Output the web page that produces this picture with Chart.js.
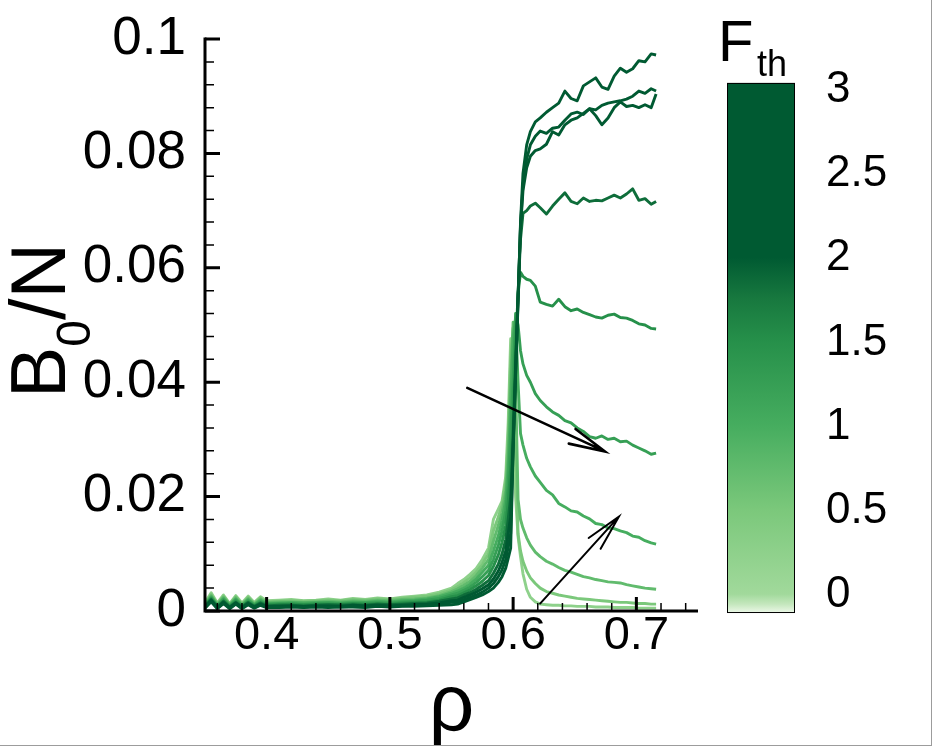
<!DOCTYPE html>
<html><head><meta charset="utf-8">
<script src="https://cdn.jsdelivr.net/npm/chart.js@4.4.1/dist/chart.umd.min.js"></script>
<style>
html,body{margin:0;padding:0;background:#fff;overflow:hidden;}
#wrap{width:931px;height:745px;border-right:1px solid #9c9c9c;border-bottom:1px solid #9c9c9c;background:#fff;}
canvas{display:block;}
</style></head><body>
<div id="wrap"><canvas id="c" width="931" height="745"></canvas></div>
<script>
// ---------- data ----------
const rho = [0.350,0.355,0.360,0.365,0.370,0.375,0.380,0.385,0.390,0.395,0.400,
0.410,0.420,0.430,0.440,0.450,0.460,0.470,0.480,0.490,0.500,0.510,0.520,0.530,0.540,0.550,
0.555,0.560,0.565,0.570,0.575,0.580,0.584,0.588,0.591,0.594,0.596,0.598,
0.600,0.602,0.604,0.606,0.608,
0.611,0.614,0.618,0.622,
0.627,0.632,0.637,0.642,0.647,0.652,0.657,0.662,0.667,0.672,0.677,0.682,0.687,0.692,0.697,0.702,0.707,0.712,
0.716];

const F_th = [3, 2.5, 2, 1.85, 1.5, 1.25, 1, 0.75, 0.5, 0.25];

const curveF300 = [0.0005,0.0016,0.0004,0.0013,0.0004,0.0012,0.0004,0.0011,0.0005,0.0010,0.0006,
0.0006,0.0007,0.0006,0.0007,0.0006,0.0007,0.0007,0.0006,0.0008,0.0007,0.0008,0.0008,0.0009,0.0010,0.0011,
0.0012,0.0016,0.0020,0.0024,0.0028,0.0034,0.0040,0.0050,0.0060,0.0075,0.0092,0.0110,
0.0280,0.0410,0.0540,0.0680,0.0765,
0.0815,0.0838,0.0855,0.0862,
0.0872,0.0880,0.0888,0.0909,0.0896,0.0892,0.0918,0.0925,0.0932,0.0916,0.0912,0.0935,0.0949,0.0942,0.0948,0.0962,0.0960,0.0974,
0.0972];
const curveF250 = [0.0006,0.0017,0.0005,0.0014,0.0005,0.0013,0.0005,0.0012,0.0006,0.0011,0.0007,
0.0007,0.0008,0.0007,0.0008,0.0008,0.0007,0.0008,0.0008,0.0009,0.0008,0.0009,0.0010,0.0010,0.0012,0.0015,
0.0016,0.0020,0.0024,0.0028,0.0033,0.0040,0.0048,0.0060,0.0072,0.0090,0.0112,0.0135,
0.0285,0.0415,0.0545,0.0675,0.0745,
0.0790,0.0815,0.0830,0.0839,
0.0835,0.0844,0.0846,0.0858,0.0869,0.0872,0.0868,0.0878,0.0876,0.0884,0.0888,0.0890,0.0892,0.0895,0.0900,0.0909,0.0905,0.0913,
0.0909];
const curveF200 = [0.0007,0.0019,0.0006,0.0015,0.0006,0.0014,0.0006,0.0013,0.0007,0.0012,0.0008,
0.0008,0.0009,0.0008,0.0009,0.0009,0.0008,0.0010,0.0009,0.0010,0.0009,0.0010,0.0011,0.0012,0.0014,0.0018,
0.0019,0.0024,0.0028,0.0033,0.0039,0.0046,0.0056,0.0070,0.0085,0.0105,0.0135,0.0165,
0.0290,0.0420,0.0550,0.0670,0.0735,
0.0775,0.0795,0.0805,0.0808,
0.0816,0.0838,0.0832,0.0850,0.0858,0.0862,0.0870,0.0878,0.0866,0.0850,0.0862,0.0880,0.0890,0.0882,0.0884,0.0880,0.0885,0.0880,
0.0904];
const curveF185 = [0.0008,0.0020,0.0007,0.0017,0.0007,0.0015,0.0007,0.0015,0.0008,0.0014,0.0009,
0.0010,0.0010,0.0009,0.0010,0.0011,0.0010,0.0011,0.0010,0.0012,0.0011,0.0012,0.0013,0.0014,0.0017,0.0021,
0.0023,0.0028,0.0032,0.0038,0.0045,0.0053,0.0066,0.0082,0.0100,0.0125,0.0160,0.0200,
0.0300,0.0430,0.0555,0.0650,0.0695,
0.0700,0.0708,0.0713,0.0705,
0.0694,0.0708,0.0720,0.0731,0.0716,0.0712,0.0722,0.0716,0.0718,0.0717,0.0722,0.0727,0.0722,0.0729,0.0738,0.0718,0.0721,0.0711,
0.0716];
const curveF150 = [0.0009,0.0022,0.0008,0.0018,0.0008,0.0017,0.0008,0.0016,0.0009,0.0015,0.0011,
0.0011,0.0012,0.0011,0.0012,0.0012,0.0011,0.0013,0.0012,0.0013,0.0012,0.0014,0.0015,0.0016,0.0019,0.0025,
0.0027,0.0032,0.0037,0.0044,0.0052,0.0062,0.0078,0.0098,0.0120,0.0150,0.0190,0.0250,
0.0330,0.0460,0.0555,0.0592,0.0585,
0.0580,0.0578,0.0568,0.0540,
0.0536,0.0533,0.0545,0.0532,0.0525,0.0528,0.0522,0.0518,0.0514,0.0512,0.0517,0.0519,0.0513,0.0512,0.0508,0.0502,0.0500,0.0494,
0.0493];
const curveF125 = [0.0010,0.0023,0.0009,0.0020,0.0009,0.0019,0.0009,0.0018,0.0010,0.0017,0.0012,
0.0013,0.0013,0.0012,0.0013,0.0014,0.0013,0.0014,0.0014,0.0015,0.0014,0.0016,0.0017,0.0019,0.0022,0.0028,
0.0031,0.0036,0.0042,0.0050,0.0060,0.0071,0.0090,0.0115,0.0140,0.0175,0.0220,0.0310,
0.0400,0.0520,0.0500,0.0455,0.0432,
0.0412,0.0400,0.0380,0.0368,
0.0357,0.0348,0.0342,0.0333,0.0329,0.0320,0.0314,0.0305,0.0302,0.0306,0.0300,0.0302,0.0296,0.0297,0.0290,0.0285,0.0280,0.0274,
0.0276];
const curveF100 = [0.0011,0.0025,0.0010,0.0022,0.0010,0.0021,0.0010,0.0020,0.0011,0.0019,0.0013,
0.0014,0.0015,0.0014,0.0015,0.0015,0.0014,0.0016,0.0015,0.0017,0.0016,0.0018,0.0019,0.0021,0.0025,0.0031,
0.0035,0.0040,0.0047,0.0056,0.0068,0.0080,0.0105,0.0132,0.0158,0.0195,0.0250,0.0360,
0.0480,0.0512,0.0400,0.0310,0.0290,
0.0267,0.0252,0.0236,0.0225,
0.0211,0.0203,0.0188,0.0182,0.0175,0.0173,0.0166,0.0161,0.0153,0.0151,0.0145,0.0144,0.0140,0.0137,0.0131,0.0129,0.0123,0.0119,
0.0117];
const curveF075 = [0.0012,0.0027,0.0011,0.0024,0.0011,0.0023,0.0011,0.0022,0.0012,0.0021,0.0015,
0.0016,0.0016,0.0015,0.0016,0.0017,0.0016,0.0018,0.0017,0.0019,0.0018,0.0020,0.0021,0.0023,0.0027,0.0034,
0.0039,0.0045,0.0052,0.0062,0.0075,0.0090,0.0122,0.0150,0.0172,0.0210,0.0275,0.0400,
0.0505,0.0400,0.0195,0.0160,0.0145,
0.0128,0.0115,0.0103,0.0095,
0.0087,0.0082,0.0076,0.0071,0.0068,0.0064,0.0060,0.0058,0.0055,0.0053,0.0051,0.0050,0.0049,0.0046,0.0044,0.0042,0.0040,0.0039,
0.0038];
const curveF050 = [0.0013,0.0029,0.0012,0.0026,0.0012,0.0025,0.0012,0.0024,0.0013,0.0023,0.0016,
0.0017,0.0018,0.0017,0.0018,0.0019,0.0018,0.0020,0.0019,0.0021,0.0020,0.0022,0.0024,0.0026,0.0030,0.0037,
0.0043,0.0050,0.0058,0.0068,0.0082,0.0100,0.0140,0.0165,0.0185,0.0225,0.0300,0.0440,
0.0495,0.0300,0.0135,0.0105,0.0087,
0.0070,0.0058,0.0048,0.0040,
0.0034,0.0031,0.0028,0.0026,0.0024,0.0022,0.0021,0.0020,0.0019,0.0018,0.0017,0.0016,0.0015,0.0015,0.0014,0.0013,0.0013,0.0012,
0.0012];
const curveF025 = [0.0015,0.0032,0.0014,0.0028,0.0013,0.0027,0.0014,0.0026,0.0015,0.0025,0.0018,
0.0019,0.0020,0.0018,0.0019,0.0021,0.0019,0.0022,0.0020,0.0023,0.0021,0.0024,0.0026,0.0028,0.0033,0.0040,
0.0048,0.0055,0.0064,0.0074,0.0090,0.0110,0.0160,0.0178,0.0192,0.0235,0.0330,0.0476,
0.0360,0.0200,0.0130,0.0095,0.0065,
0.0038,0.0024,0.0016,0.0012,
0.0011,0.0010,0.0010,0.0009,0.0009,0.0008,0.0008,0.0008,0.0007,0.0007,0.0007,0.0006,0.0006,0.0006,0.0006,0.0005,0.0005,0.0005,
0.0005];

const seriesList = [curveF300, curveF250, curveF200, curveF185, curveF150, curveF125, curveF100, curveF075, curveF050, curveF025];

const xTicks = [0.4, 0.5, 0.6, 0.7];
const xTickLabels = ['0.4', '0.5', '0.6', '0.7'];
const yTicks = [0, 0.02, 0.04, 0.06, 0.08, 0.1];
const yTickLabels = ['0', '0.02', '0.04', '0.06', '0.08', '0.1'];
const cbTicks = [0, 0.5, 1, 1.5, 2, 2.5, 3];
const cbTickLabels = ['0', '0.5', '1', '1.5', '2', '2.5', '3'];
const cbRange = [-0.113, 3.036];
// annotation arrows (data coordinates: [rho, B0/N])
const arrowStarts = [[0.5628, 0.0390], [0.6219, 0.0013]];
const arrowEnds   = [[0.6745, 0.0279], [0.6858, 0.0165]];

// ---------- styles ----------
const FONT = '"Liberation Sans", Arial, Helvetica, sans-serif';
const cmapStops = [[-0.12,'#f2faef'],[-0.06,'#c4e7bd'],[0,'#a1d99b'],[0.5,'#7bc87b'],[1,'#46ad5f'],[1.5,'#26904a'],[1.75,'#18793f'],[2,'#005a32'],[3.2,'#005a32']];
function hex2rgb(h){return [parseInt(h.slice(1,3),16),parseInt(h.slice(3,5),16),parseInt(h.slice(5,7),16)];}
function cmap(v){
  for(let i=0;i<cmapStops.length-1;i++){
    const a=cmapStops[i][0], b=cmapStops[i+1][0];
    if(v<=b){
      const t=Math.max(0,(v-a)/(b-a));
      const A=hex2rgb(cmapStops[i][1]), B=hex2rgb(cmapStops[i+1][1]);
      return 'rgb('+A.map((x,k)=>Math.round(x+(B[k]-x)*t)).join(',')+')';
    }
  }
  return cmapStops[cmapStops.length-1][1];
}

const datasets = seriesList.map((s,i)=>({
  label: 'F_th=' + F_th[i],
  data: rho.map((x,j)=>({x:x, y:s[j]})),
  borderColor: cmap(F_th[i]),
  borderWidth: 2.9,
  pointRadius: 0,
  tension: 0,
  fill: false,
  borderJoinStyle: 'round'
}));

const deco = {
  id: 'deco',
  afterDatasetsDraw(chart){
    const ctx = chart.ctx, xs = chart.scales.x, ys = chart.scales.y, a = chart.chartArea;
    ctx.save();
    // arrows
    ctx.strokeStyle = '#000';
    ctx.lineCap = 'round';
    arrowStarts.forEach((st,i)=>{
      const x1=xs.getPixelForValue(st[0]), y1=ys.getPixelForValue(st[1]);
      const x2=xs.getPixelForValue(arrowEnds[i][0]), y2=ys.getPixelForValue(arrowEnds[i][1]);
      ctx.lineWidth = i===0 ? 2.6 : 2;
      ctx.beginPath(); ctx.moveTo(x1,y1); ctx.lineTo(x2,y2);
      const ang = Math.atan2(y1-y2, x1-x2), L = 37, h = 0.22;
      ctx.moveTo(x2+L*Math.cos(ang+h), y2+L*Math.sin(ang+h)); ctx.lineTo(x2,y2);
      ctx.lineTo(x2+L*Math.cos(ang-h), y2+L*Math.sin(ang-h));
      ctx.stroke();
    });
    // axes
    ctx.lineCap = 'butt';
    ctx.lineWidth = 3;
    ctx.beginPath();
    ctx.moveTo(a.left, a.top-1.5); ctx.lineTo(a.left, a.bottom+1.5);
    ctx.moveTo(a.left-1.5, a.bottom); ctx.lineTo(a.right, a.bottom);
    ctx.stroke();
    // major ticks
    ctx.beginPath();
    yTicks.forEach(v=>{const y=ys.getPixelForValue(v); ctx.moveTo(a.left, y); ctx.lineTo(a.left+15, y);});
    xTicks.forEach(v=>{const x=xs.getPixelForValue(v); ctx.moveTo(x, a.bottom); ctx.lineTo(x, a.bottom-14);});
    ctx.stroke();
    // minor ticks
    ctx.lineWidth = 1.5;
    ctx.beginPath();
    for(let k=1;k<25;k++){ const v=k*0.004; if(k%5===0) continue; const y=ys.getPixelForValue(v); ctx.moveTo(a.left,y); ctx.lineTo(a.left+9,y);}
    for(let k=0;k<=20;k++){ const v=0.36+k*0.02; if(Math.abs(v*10-Math.round(v*10))<1e-6) continue; if(v>0.75) continue; const x=xs.getPixelForValue(v); ctx.moveTo(x,a.bottom); ctx.lineTo(x,a.bottom-8);}
    ctx.stroke();
    ctx.restore();
  },
  afterDraw(chart){
    const ctx = chart.ctx, a = chart.chartArea, cb = chart.scales.cb;
    ctx.save();
    // axis titles
    ctx.fillStyle = '#000';
    ctx.textBaseline = 'alphabetic';
    ctx.textAlign = 'center';
    ctx.font = '80px ' + FONT;
    ctx.fillText('\u03C1', (a.left+a.right)/2, 730);
    // y title B0/N rotated
    ctx.save();
    ctx.translate(65, 398);
    ctx.rotate(-Math.PI/2);
    ctx.textAlign = 'left';
    ctx.font = '77px ' + FONT;
    ctx.fillText('B', 0, 0);
    let w = ctx.measureText('B').width;
    ctx.font = '48px ' + FONT;
    ctx.fillText('0', w, 25);
    w += ctx.measureText('0').width;
    ctx.font = '77px ' + FONT;
    ctx.fillText('/N', w, 0);
    ctx.restore();
    // colorbar
    const cx0 = a.right + 29, cw = 68;
    const yTop = cb.getPixelForValue(cbRange[1]), yBot = cb.getPixelForValue(cbRange[0]);
    const g = ctx.createLinearGradient(0, yBot, 0, yTop);
    cmapStops.forEach(s=>{
      const t = (s[0]-cbRange[0])/(cbRange[1]-cbRange[0]);
      if(t>=0 && t<=1) g.addColorStop(t, s[1]);
    });
    g.addColorStop(0, cmap(cbRange[0]));
    g.addColorStop(1, cmap(cbRange[1]));
    ctx.fillStyle = g;
    ctx.fillRect(cx0, yTop, cw, yBot-yTop);
    ctx.strokeStyle = '#000'; ctx.lineWidth = 1;
    ctx.strokeRect(cx0+0.5, yTop+0.5, cw-1, yBot-yTop-1);
    ctx.fillStyle = '#000';
    ctx.textAlign = 'left'; ctx.textBaseline = 'middle';
    ctx.font = '44px ' + FONT;
    cbTicks.forEach((v,i)=>{ ctx.fillText(cbTickLabels[i], cx0+cw+31, cb.getPixelForValue(v)+1); });
    // colorbar title F_th
    ctx.textBaseline = 'alphabetic';
    ctx.font = '58px ' + FONT;
    ctx.fillText('F', cx0-9, 61);
    ctx.font = '36px ' + FONT;
    ctx.fillText('th', cx0+30, 76);
    ctx.restore();
  }
};

new Chart(document.getElementById('c'), {
  type: 'line',
  data: { datasets },
  options: {
    responsive: false,
    animation: false,
    devicePixelRatio: 1,
    layout: { padding: { top: 39, right: 233, bottom: 0, left: 0 } },
    plugins: { legend: { display: false }, tooltip: { enabled: false }, title: { display: false } },
    scales: {
      x: {
        type: 'linear', position: 'bottom', min: 0.35, max: 0.75,
        grid: { display: false, drawTicks: false }, border: { display: false },
        afterBuildTicks: s => { s.ticks = xTicks.map(v=>({value:v})); },
        afterFit: s => { s.height = 134; },
        ticks: { font: { family: FONT, size: 47, lineHeight: 1 }, color: '#000', padding: 2,
                 maxRotation: 0, autoSkip: false, callback: (v,i)=>xTickLabels[i] }
      },
      y: {
        type: 'linear', position: 'left', min: 0, max: 0.1,
        grid: { display: false, drawTicks: false }, border: { display: false },
        afterBuildTicks: s => { s.ticks = yTicks.map(v=>({value:v})); },
        afterFit: s => { s.width = 205; s.paddingTop = 0; s.paddingBottom = 0; },
        ticks: { font: { family: FONT, size: 53, lineHeight: 0.6 }, color: '#000', padding: 19,
                 autoSkip: false, callback: (v,i)=>yTickLabels[i] }
      },
      cb: {
        type: 'linear', position: 'right', display: false, min: -0.101, max: 3.297
      }
    }
  },
  plugins: [deco]
});
</script>
</body></html>
